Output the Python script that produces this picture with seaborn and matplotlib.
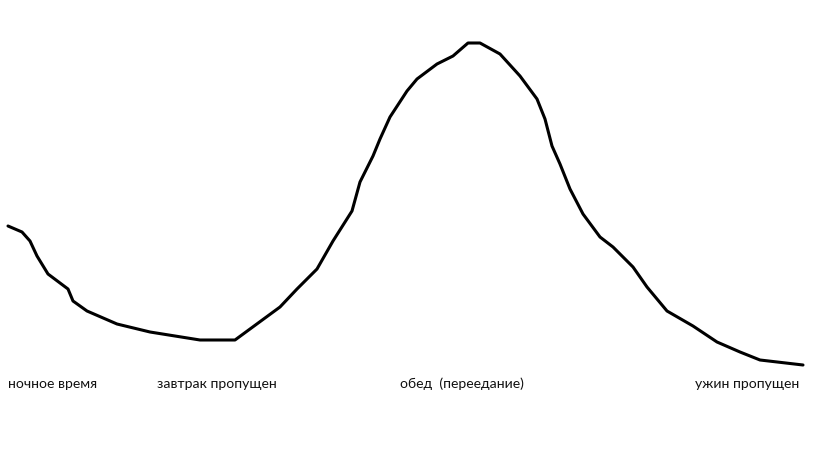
import matplotlib
matplotlib.use("Agg")
import matplotlib.pyplot as plt
import seaborn as sns
import pandas as pd

# hand-drawn curve (x to the right, y downward)
curve_x = [8, 22, 30, 37, 48, 68, 73, 87, 117, 150, 200, 235, 280, 297, 317, 333,
           352, 360, 373, 380, 390, 407, 417, 437, 453, 468, 480, 500, 520, 537,
           545, 552, 560, 570, 583, 600, 613, 633, 647, 667, 693, 717, 740, 760, 803]
curve_y = [227, 233, 242, 257, 275, 290, 302, 312, 325, 333, 341, 341, 308, 290, 270, 242,
           212, 183, 157, 140, 118, 92, 80, 65, 57, 44, 44, 55, 77, 100,
           120, 147, 165, 190, 215, 238, 248, 268, 288, 312, 327, 343, 353, 361, 366]

labels = ["ночное время", "завтрак пропущен", "обед  (переедание)", "ужин пропущен"]
label_x = [8, 157, 400, 695]

df = pd.DataFrame({"x": curve_x, "y": curve_y})

sns.set_style("white")
plt.rcParams['font.family'] = ['Lato', 'DejaVu Sans']

fig = plt.figure(figsize=(8.19, 4.60), dpi=100)
ax = fig.add_axes([0, 0, 1, 1])
sns.lineplot(data=df, x="x", y="y", ax=ax, color="black", linewidth=2.2, sort=False,
             solid_joinstyle="round", solid_capstyle="round")
for lab, lx in zip(labels, label_x):
    ax.text(lx, 384, lab, fontsize=10.1, va="center", ha="left", color="#111111")

ax.set_xlim(0, 819)
ax.set_ylim(460, 0)
ax.axis("off")
fig.savefig("out.png", dpi=100)
